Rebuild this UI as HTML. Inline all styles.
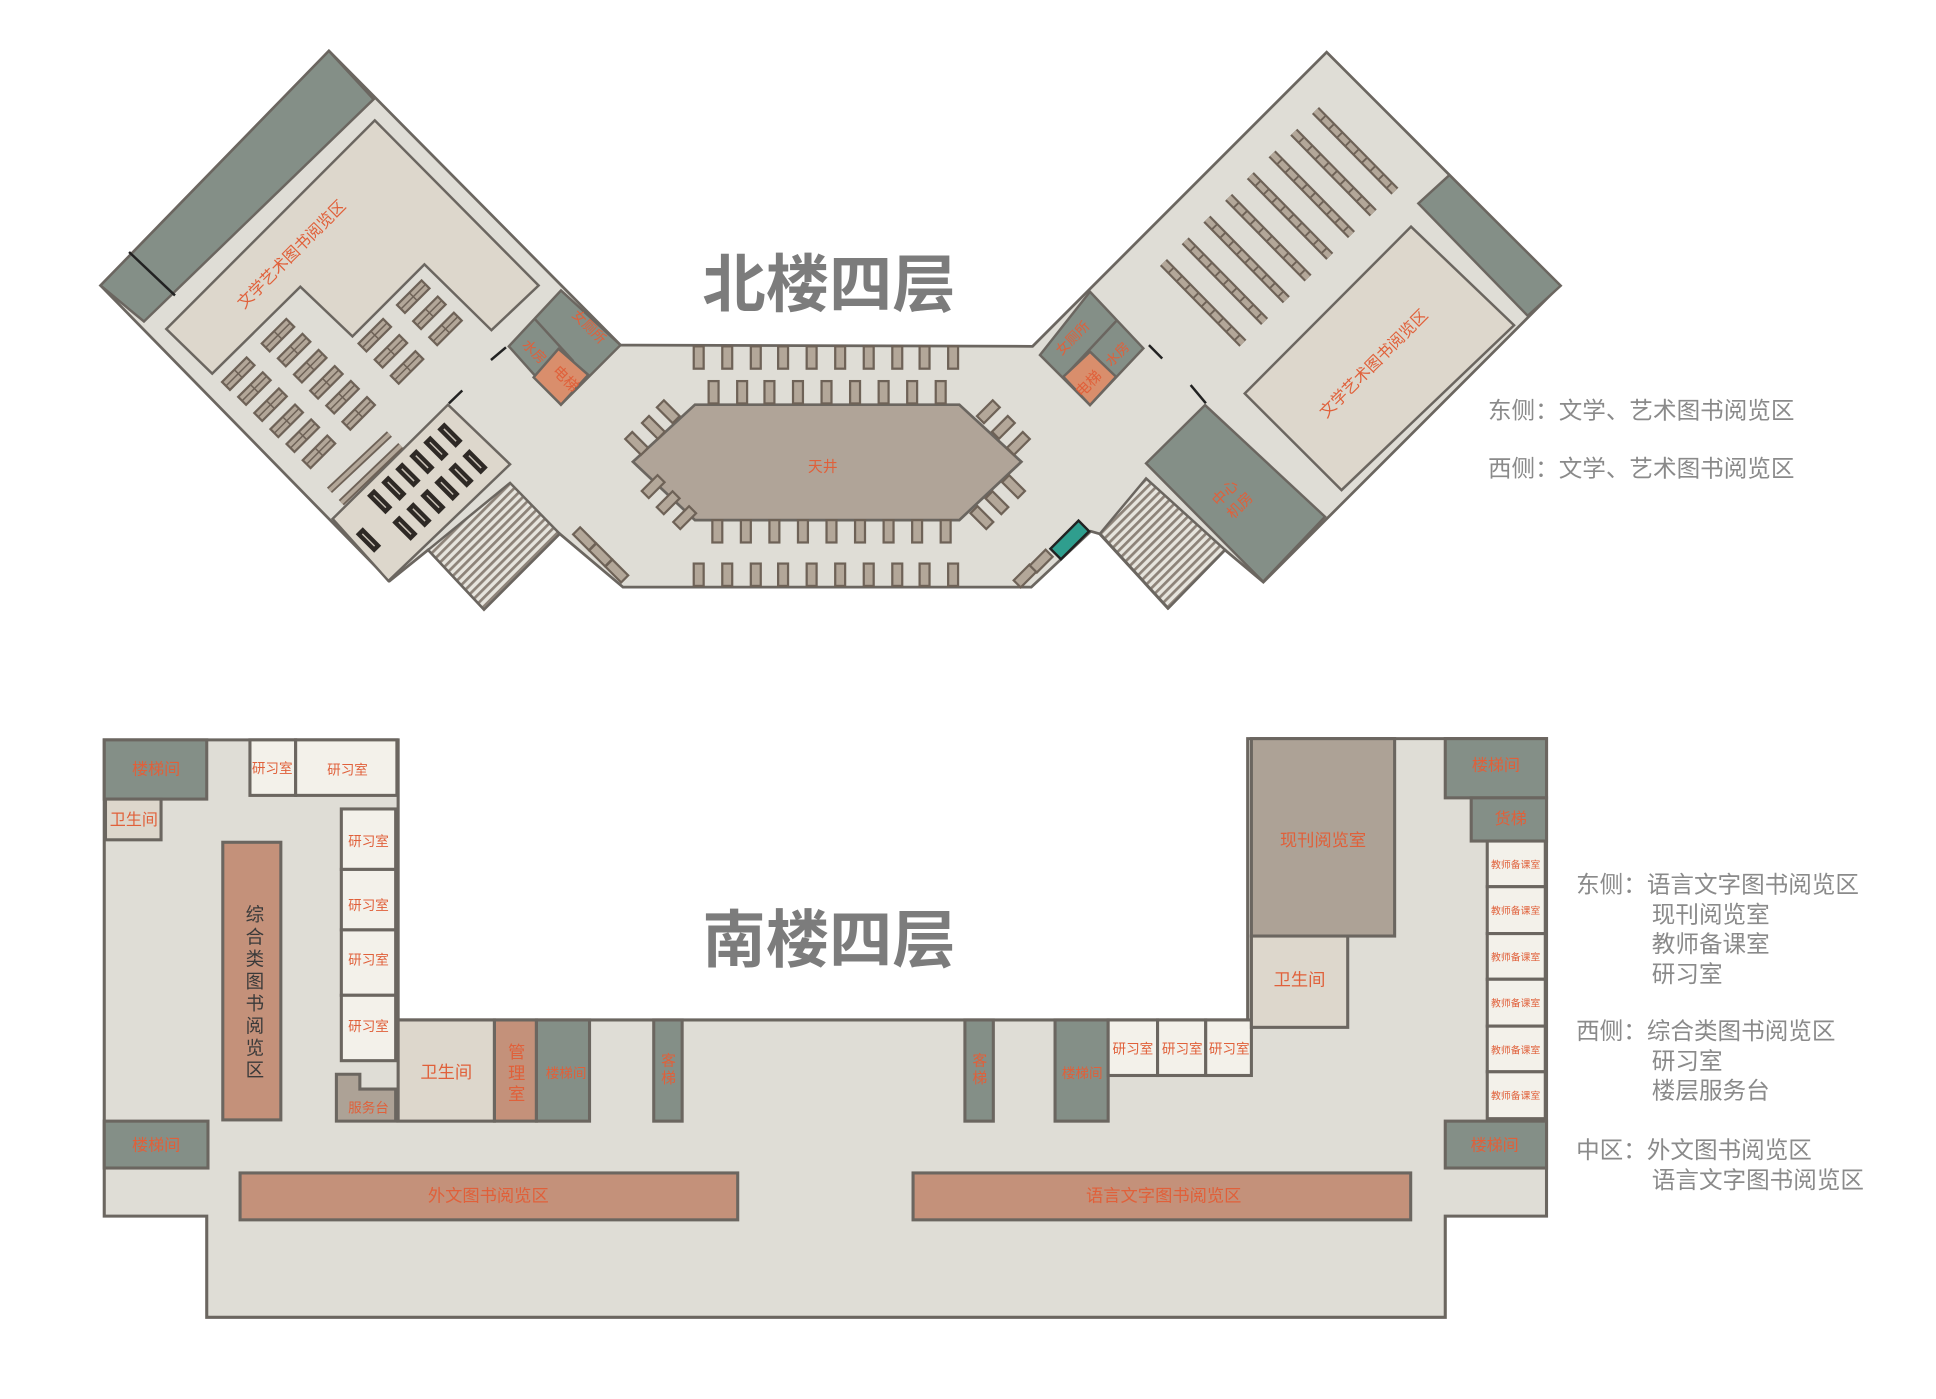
<!DOCTYPE html>
<html><head><meta charset="utf-8"><style>
html,body{margin:0;padding:0;background:#fff;}
svg{display:block;}
text{font-family:"Liberation Sans","Noto Sans CJK SC",sans-serif;}
</style></head><body>
<svg width="1936" height="1399" viewBox="0 0 1560 1127" preserveAspectRatio="none" xmlns="http://www.w3.org/2000/svg">
<defs>
<g id="sh"><rect x="-14" y="-4.5" width="28" height="9" fill="#b3a799" stroke="#6e6257" stroke-width="1.8"/><line x1="-14" y1="0" x2="14" y2="0" stroke="#6e6257" stroke-width="1.2"/><line x1="0" y1="-4.5" x2="0" y2="4.5" stroke="#6e6257" stroke-width="1.2"/></g>
<g id="dk"><rect x="-10" y="-3.5" width="20" height="7" fill="#2e2925" stroke="#2e2925" stroke-width="1"/><line x1="-7" y1="0" x2="7" y2="0" stroke="#c9c1b6" stroke-width="1.2"/></g>
<rect id="ch" x="-4" y="-9" width="8" height="18" fill="#b3a799" stroke="#6e6257" stroke-width="1.8"/>
<pattern id="st" width="5" height="5" patternUnits="userSpaceOnUse" patternTransform="rotate(-45)"><rect width="5" height="5" fill="#e6e4dd"/><rect width="5" height="2.2" fill="#8d8379"/></pattern>
</defs>

<!-- ===== NORTH BUILDING ===== -->
<polygon points="265,41 500,278 832,279 1069,42 1257,230 1018,469 987,443 941,490 886,430 879,428 831,473 502,473 451,430 390,491 345,443 314,468 81,230" fill="#dfddd6" stroke="#6b6660" stroke-width="2.2"/>
<polygon points="265,41 301,80 116,259 81,230" fill="#848f87" stroke="#6b6660" stroke-width="2"/>
<line x1="104" y1="203" x2="141" y2="238" stroke="#222" stroke-width="2"/>
<polygon points="302,97 434,230 396,266 342,213 284,271 242,231 171,301 134,265" fill="#ddd7cc" stroke="#6b6660" stroke-width="2"/>
<text x="238" y="208" font-size="13" fill="#e0603a" text-anchor="middle" transform="rotate(-45 238 208)">文学艺术图书阅览区</text>
<polygon points="268,418 361,326 411,374 313,468" fill="#ddd7cc" stroke="#6b6660" stroke-width="2"/>
<polygon points="345,443 411,389 451,430 390,491" fill="url(#st)" stroke="#6b6660" stroke-width="2"/>
<!-- west restroom block -->
<polygon points="452,234 500,278 452,326 410,279" fill="#848f87" stroke="#6b6660" stroke-width="2"/>
<line x1="431" y1="257" x2="462" y2="291" stroke="#6b6660" stroke-width="2"/>
<polygon points="450,281 474,302 452,326 430,304" fill="#d98e6c" stroke="#6b6660" stroke-width="2"/>
<text x="472" y="266" font-size="11" fill="#e0603a" text-anchor="middle" transform="rotate(45 472 266)">女厕所</text>
<text x="428" y="286" font-size="11" fill="#e0603a" text-anchor="middle" transform="rotate(45 428 286)">水房</text>
<text x="453" y="308" font-size="12" fill="#e0603a" text-anchor="middle" transform="rotate(45 453 308)">电梯</text>
<line x1="395.6" y1="290" x2="407.7" y2="279.8" stroke="#222" stroke-width="2"/>
<line x1="361.7" y1="325" x2="372.5" y2="314.6" stroke="#222" stroke-width="2"/>
<g>
<use href="#sh" transform="translate(224,270) rotate(-45)"/><use href="#sh" transform="translate(237,282) rotate(-45)"/><use href="#sh" transform="translate(250,295) rotate(-45)"/><use href="#sh" transform="translate(263,308) rotate(-45)"/><use href="#sh" transform="translate(276,320) rotate(-45)"/><use href="#sh" transform="translate(289,333) rotate(-45)"/>
<use href="#sh" transform="translate(192,301) rotate(-45)"/><use href="#sh" transform="translate(205,313) rotate(-45)"/><use href="#sh" transform="translate(218,326) rotate(-45)"/><use href="#sh" transform="translate(231,339) rotate(-45)"/><use href="#sh" transform="translate(244,351) rotate(-45)"/><use href="#sh" transform="translate(257,364) rotate(-45)"/>
<use href="#sh" transform="translate(333,239) rotate(-45)"/><use href="#sh" transform="translate(346,252) rotate(-45)"/><use href="#sh" transform="translate(359,265) rotate(-45)"/>
<use href="#sh" transform="translate(302,270) rotate(-45)"/><use href="#sh" transform="translate(315,283) rotate(-45)"/><use href="#sh" transform="translate(328,296) rotate(-45)"/>
</g>
<line x1="265.5" y1="395" x2="313.8" y2="349.6" stroke="#6e6257" stroke-width="6"/><line x1="265.5" y1="395" x2="313.8" y2="349.6" stroke="#b3a799" stroke-width="3"/>
<line x1="275" y1="405" x2="323" y2="359" stroke="#6e6257" stroke-width="6"/><line x1="275" y1="405" x2="323" y2="359" stroke="#b3a799" stroke-width="3"/>
<g>
<use href="#dk" transform="translate(362.6,350.5) rotate(45)"/><use href="#dk" transform="translate(351.3,361.2) rotate(45)"/><use href="#dk" transform="translate(340,372) rotate(45)"/><use href="#dk" transform="translate(328.7,382.6) rotate(45)"/><use href="#dk" transform="translate(317.4,393.3) rotate(45)"/><use href="#dk" transform="translate(306,404) rotate(45)"/>
<use href="#dk" transform="translate(382.8,372) rotate(45)"/><use href="#dk" transform="translate(371.5,382.7) rotate(45)"/><use href="#dk" transform="translate(360.2,393.4) rotate(45)"/><use href="#dk" transform="translate(348.9,404) rotate(45)"/><use href="#dk" transform="translate(337.6,414.8) rotate(45)"/><use href="#dk" transform="translate(326.3,425.5) rotate(45)"/>
<use href="#dk" transform="translate(296.9,435) rotate(45)"/>
</g>

<polygon points="510,372 560,326 773,326 823,372 773,419 560,419" fill="#b0a498" stroke="#6b6660" stroke-width="2.2"/>
<text x="663" y="380" font-size="12" fill="#e0603a" text-anchor="middle">天井</text>
<g>
<use href="#ch" x="563" y="288"/><use href="#ch" x="586" y="288"/><use href="#ch" x="609" y="288"/><use href="#ch" x="631" y="288"/><use href="#ch" x="654" y="288"/><use href="#ch" x="677" y="288"/><use href="#ch" x="700" y="288"/><use href="#ch" x="723" y="288"/><use href="#ch" x="745" y="288"/><use href="#ch" x="768" y="288"/>
<use href="#ch" x="575" y="316"/><use href="#ch" x="598" y="316"/><use href="#ch" x="620" y="316"/><use href="#ch" x="643" y="316"/><use href="#ch" x="666" y="316"/><use href="#ch" x="689" y="316"/><use href="#ch" x="712" y="316"/><use href="#ch" x="735" y="316"/><use href="#ch" x="758" y="316"/>
<use href="#ch" x="578" y="428"/><use href="#ch" x="601" y="428"/><use href="#ch" x="624" y="428"/><use href="#ch" x="647" y="428"/><use href="#ch" x="670" y="428"/><use href="#ch" x="693" y="428"/><use href="#ch" x="716" y="428"/><use href="#ch" x="739" y="428"/><use href="#ch" x="762" y="428"/>
<use href="#ch" x="563" y="463"/><use href="#ch" x="586" y="463"/><use href="#ch" x="609" y="463"/><use href="#ch" x="631" y="463"/><use href="#ch" x="654" y="463"/><use href="#ch" x="677" y="463"/><use href="#ch" x="700" y="463"/><use href="#ch" x="723" y="463"/><use href="#ch" x="745" y="463"/><use href="#ch" x="768" y="463"/>
<use href="#ch" transform="translate(538.5,331.7) rotate(-45)"/><use href="#ch" transform="translate(526.5,344.3) rotate(-45)"/><use href="#ch" transform="translate(513,357.2) rotate(-45)"/>
<use href="#ch" transform="translate(526.3,392) rotate(45)"/><use href="#ch" transform="translate(538.4,405) rotate(45)"/><use href="#ch" transform="translate(551.7,417) rotate(45)"/>
<use href="#ch" transform="translate(796.4,331.7) rotate(45)"/><use href="#ch" transform="translate(808.5,344.3) rotate(45)"/><use href="#ch" transform="translate(820.6,357.2) rotate(45)"/>
<use href="#ch" transform="translate(816.7,392) rotate(-45)"/><use href="#ch" transform="translate(803.3,405) rotate(-45)"/><use href="#ch" transform="translate(791.2,417) rotate(-45)"/>
<use href="#ch" transform="translate(471,434) rotate(-45)"/><use href="#ch" transform="translate(484,447) rotate(-45)"/><use href="#ch" transform="translate(497,460) rotate(-45)"/>
<use href="#ch" transform="translate(826,464) rotate(45)"/><use href="#ch" transform="translate(839,452) rotate(45)"/>
</g>
<rect x="-16" y="-6" width="32" height="12" fill="#2f9e8e" stroke="#222" stroke-width="2" transform="translate(862,435) rotate(-45)"/>

<polygon points="1167.9,141 1257.6,230.2 1231,254.4 1142.9,163.9" fill="#848f87" stroke="#6b6660" stroke-width="2"/>
<polygon points="1137,182.6 1220,262 1081,394.8 1003,317" fill="#ddd7cc" stroke="#6b6660" stroke-width="2"/>
<text x="1110" y="296" font-size="13" fill="#e0603a" text-anchor="middle" transform="rotate(-45 1110 296)">文学艺术图书阅览区</text>
<polygon points="878.3,235 921.3,280.6 878.3,326.3 838,286" fill="#848f87" stroke="#6b6660" stroke-width="2"/>
<line x1="857" y1="304" x2="900" y2="258" stroke="#6b6660" stroke-width="2"/>
<polygon points="878.3,283.3 899.3,303.5 878.3,326.3 856.8,303.5" fill="#d98e6c" stroke="#6b6660" stroke-width="2"/>
<text x="867" y="275" font-size="11" fill="#e0603a" text-anchor="middle" transform="rotate(-45 867 275)">女厕所</text>
<text x="903" y="288" font-size="11" fill="#e0603a" text-anchor="middle" transform="rotate(-45 903 288)">水房</text>
<text x="880" y="312" font-size="12" fill="#e0603a" text-anchor="middle" transform="rotate(-45 880 312)">电梯</text>
<line x1="925.8" y1="278" x2="936.5" y2="288.8" stroke="#222" stroke-width="2"/>
<line x1="959.4" y1="310.2" x2="971.7" y2="324.9" stroke="#222" stroke-width="2"/>
<polygon points="971,326.3 1067.7,416.3 1017.8,468.6 923.5,373.3" fill="#848f87" stroke="#6b6660" stroke-width="2"/>
<text x="990" y="400" font-size="12" fill="#e0603a" text-anchor="middle" transform="rotate(-45 990 400)">中心</text>
<text x="1002" y="410" font-size="12" fill="#e0603a" text-anchor="middle" transform="rotate(-45 1002 410)">机房</text>
<polygon points="923.5,385.4 987.2,443 941.4,490 886.4,429.8" fill="url(#st)" stroke="#6b6660" stroke-width="2"/>
<g stroke-width="8" stroke-linecap="butt">
<line x1="1060" y1="89" x2="1124" y2="154" stroke="#6e6257"/><line x1="1042.5" y1="106.5" x2="1106.5" y2="171.5" stroke="#6e6257"/><line x1="1025" y1="124" x2="1089" y2="189" stroke="#6e6257"/><line x1="1007.5" y1="141.5" x2="1071.5" y2="206.5" stroke="#6e6257"/><line x1="990" y1="159" x2="1054" y2="224" stroke="#6e6257"/><line x1="972.5" y1="176.5" x2="1036.5" y2="241.5" stroke="#6e6257"/><line x1="955" y1="194" x2="1019" y2="259" stroke="#6e6257"/><line x1="937.5" y1="211.5" x2="1001.5" y2="276.5" stroke="#6e6257"/>
</g>
<g stroke-width="4.5" stroke="#b3a799" stroke-dasharray="8 1.5">
<line x1="1060" y1="89" x2="1124" y2="154"/><line x1="1042.5" y1="106.5" x2="1106.5" y2="171.5"/><line x1="1025" y1="124" x2="1089" y2="189"/><line x1="1007.5" y1="141.5" x2="1071.5" y2="206.5"/><line x1="990" y1="159" x2="1054" y2="224"/><line x1="972.5" y1="176.5" x2="1036.5" y2="241.5"/><line x1="955" y1="194" x2="1019" y2="259"/><line x1="937.5" y1="211.5" x2="1001.5" y2="276.5"/>
</g>

<text x="668" y="247" font-size="51" font-weight="bold" fill="#7c7c7c" text-anchor="middle">北楼四层</text>
<text x="1199" y="337" font-size="19" fill="#8a8a8a">东侧：文学、艺术图书阅览区</text>
<text x="1199" y="384" font-size="19" fill="#8a8a8a">西侧：文学、艺术图书阅览区</text>

<!-- ===== SOUTH BUILDING ===== -->
<g transform="translate(84,598) scale(0.995,0.994) translate(-84,-600)">
<polygon points="84,598 322,598 322,825 1010,825 1010,597 1252,597 1252,984 1170,984 1170,1066 167,1066 167,984 84,984" fill="#dfddd6" stroke="#6b6660" stroke-width="2.5"/>
<g stroke="#6b6660" stroke-width="2.5">
<rect x="84" y="598" width="83" height="48" fill="#848f87"/>
<rect x="85" y="646" width="45" height="33" fill="#ddd7cc"/>
<rect x="202" y="598" width="37" height="45" fill="#f3f1ea"/>
<rect x="239" y="598" width="82" height="45" fill="#f3f1ea"/>
<rect x="276" y="654" width="44" height="49" fill="#f3f1ea"/>
<rect x="276" y="703" width="44" height="49" fill="#f3f1ea"/>
<rect x="276" y="752" width="44" height="53" fill="#f3f1ea"/>
<rect x="276" y="805" width="44" height="53" fill="#f3f1ea"/>
<polygon points="272,869 291,869 291,881 320,881 320,907 272,907" fill="#ada296"/>
<rect x="180" y="681" width="47" height="225" fill="#c4917a"/>
<rect x="322" y="825" width="78" height="82" fill="#ddd7cc"/>
<rect x="400" y="825" width="34" height="82" fill="#c4917a"/>
<rect x="434" y="825" width="43" height="82" fill="#848f87"/>
<rect x="529" y="825" width="23" height="82" fill="#848f87"/>
<rect x="84" y="907" width="84" height="38" fill="#848f87"/>
<rect x="194" y="949" width="403" height="38" fill="#c4917a"/>
<rect x="781" y="825" width="23" height="82" fill="#848f87"/>
<rect x="854" y="825" width="43" height="82" fill="#848f87"/>
<rect x="897" y="825" width="40" height="45" fill="#f3f1ea"/>
<rect x="937" y="825" width="39" height="45" fill="#f3f1ea"/>
<rect x="976" y="825" width="37" height="45" fill="#f3f1ea"/>
<rect x="1013" y="597" width="116" height="160" fill="#ada296"/>
<rect x="1013" y="757" width="78" height="74" fill="#ddd7cc"/>
<rect x="1170" y="597" width="82" height="48" fill="#848f87"/>
<rect x="1191" y="645" width="61" height="35" fill="#848f87"/>
<rect x="1204" y="680" width="47" height="37" fill="#f3f1ea"/>
<rect x="1204" y="717" width="47" height="38" fill="#f3f1ea"/>
<rect x="1204" y="755" width="47" height="37" fill="#f3f1ea"/>
<rect x="1204" y="792" width="47" height="38" fill="#f3f1ea"/>
<rect x="1204" y="830" width="47" height="37" fill="#f3f1ea"/>
<rect x="1204" y="867" width="47" height="38" fill="#f3f1ea"/>
<rect x="1170" y="907" width="82" height="38" fill="#848f87"/>
<rect x="739" y="949" width="403" height="38" fill="#c4917a"/>
</g>
<g fill="#e0603a" text-anchor="middle">
<text x="126" y="626" font-size="13">楼梯间</text>
<text x="108" y="667" font-size="13">卫生间</text>
<text x="220" y="625" font-size="11">研习室</text>
<text x="281" y="626" font-size="11">研习室</text>
<text x="298" y="684" font-size="11">研习室</text>
<text x="298" y="736" font-size="11">研习室</text>
<text x="298" y="780" font-size="11">研习室</text>
<text x="298" y="834" font-size="11">研习室</text>
<text x="298" y="900" font-size="11">服务台</text>
<text x="361" y="872" font-size="14">卫生间</text>
<text x="418" y="856" font-size="14">管</text><text x="418" y="873" font-size="14">理</text><text x="418" y="890" font-size="14">室</text>
<text x="458" y="872" font-size="11">楼梯间</text>
<text x="541" y="862" font-size="12">客</text><text x="541" y="876" font-size="12">梯</text>
<text x="126" y="931" font-size="13">楼梯间</text>
<text x="395" y="972" font-size="14">外文图书阅览区</text>
<text x="793" y="862" font-size="12">客</text><text x="793" y="876" font-size="12">梯</text>
<text x="876" y="872" font-size="11">楼梯间</text>
<text x="917" y="852" font-size="11">研习室</text>
<text x="957" y="852" font-size="11">研习室</text>
<text x="995" y="852" font-size="11">研习室</text>
<text x="1071" y="684" font-size="14">现刊阅览室</text>
<text x="1052" y="797" font-size="14">卫生间</text>
<text x="1211" y="623" font-size="13">楼梯间</text>
<text x="1223" y="666" font-size="13">货梯</text>
<text x="1227" y="702" font-size="8">教师备课室</text>
<text x="1227" y="739" font-size="8">教师备课室</text>
<text x="1227" y="777" font-size="8">教师备课室</text>
<text x="1227" y="814" font-size="8">教师备课室</text>
<text x="1227" y="852" font-size="8">教师备课室</text>
<text x="1227" y="889" font-size="8">教师备课室</text>
<text x="1210" y="931" font-size="13">楼梯间</text>
<text x="942" y="972" font-size="14">语言文字图书阅览区</text>
</g>
<g fill="#3a3a3a" font-size="15" text-anchor="middle">
<text x="206" y="745">综</text><text x="206" y="763">合</text><text x="206" y="781">类</text><text x="206" y="799">图</text><text x="206" y="817">书</text><text x="206" y="835">阅</text><text x="206" y="853">览</text><text x="206" y="871">区</text>
</g>
</g>
<text x="668" y="775" font-size="51" font-weight="bold" fill="#7c7c7c" text-anchor="middle">南楼四层</text>
<g fill="#8a8a8a" font-size="19">
<text x="1270" y="719">东侧：语言文字图书阅览区</text>
<text x="1331" y="743">现刊阅览室</text>
<text x="1331" y="767">教师备课室</text>
<text x="1331" y="791">研习室</text>
<text x="1270" y="837">西侧：综合类图书阅览区</text>
<text x="1331" y="861">研习室</text>
<text x="1331" y="885">楼层服务台</text>
<text x="1270" y="933">中区：外文图书阅览区</text>
<text x="1331" y="957">语言文字图书阅览区</text>
</g>
</svg>
</body></html>
